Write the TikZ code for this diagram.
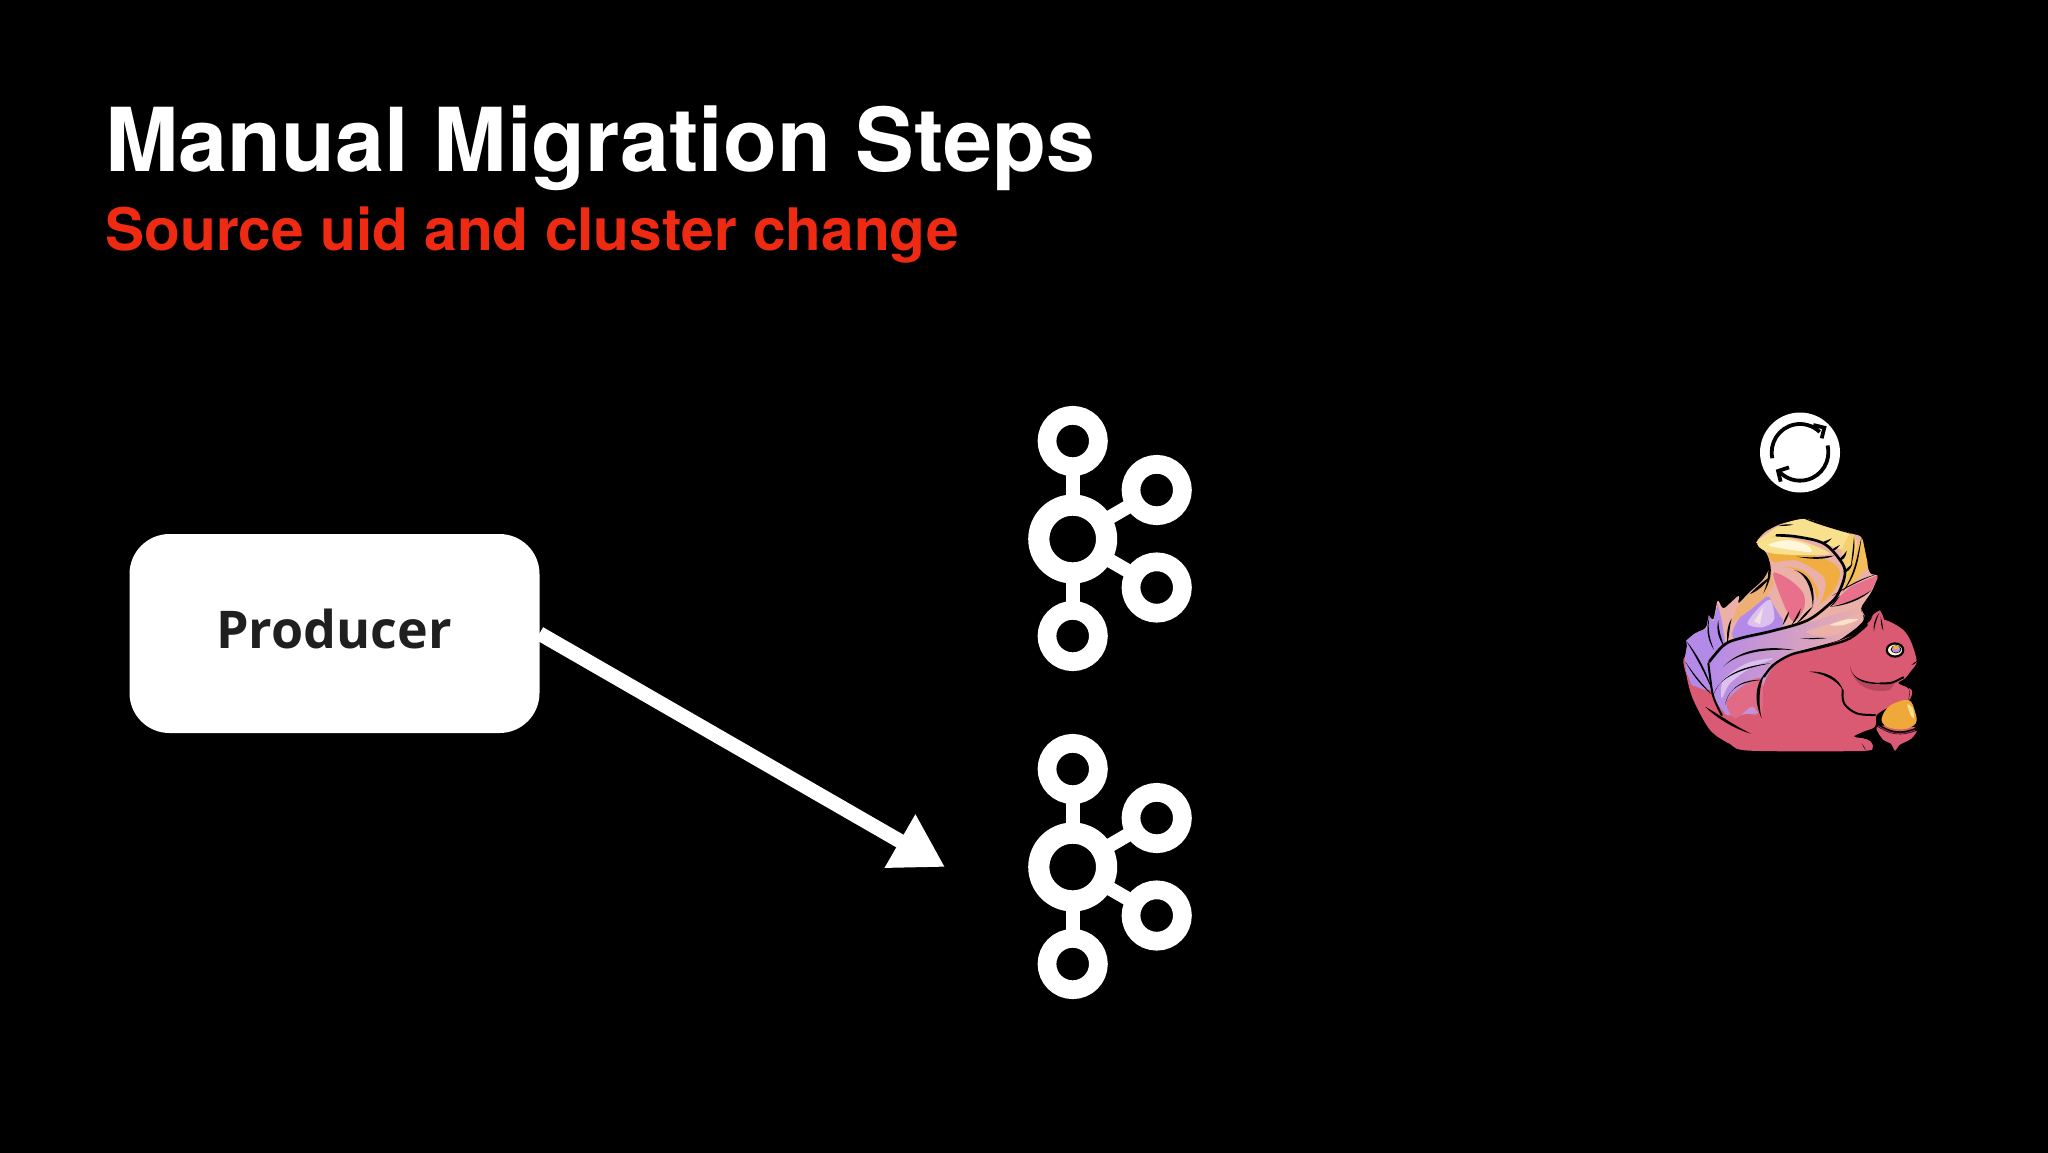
\documentclass[tikz,border=0pt]{standalone}
\usepackage{fontspec}
\setmainfont{TeX Gyre Heros}
\newfontfamily\prodfont{Open Sans}
\usetikzlibrary{arrows.meta,calc}
\definecolor{subred}{HTML}{EE2A12}
\definecolor{sqpink}{HTML}{D95A72}
\definecolor{sqdark}{HTML}{B8465F}
\definecolor{sqpurple}{HTML}{B48AE8}
\definecolor{sqlilac}{HTML}{DCC0EE}
\definecolor{sqrose}{HTML}{E8708A}
\definecolor{sqblush}{HTML}{EBB0A8}
\definecolor{sqorange}{HTML}{F0AE40}
\definecolor{sqyellow}{HTML}{F8E08C}
\definecolor{sqcream}{HTML}{FFF7DC}
\definecolor{sqgold}{HTML}{EFA93A}
\definecolor{sqcup}{HTML}{8A3050}
\def\squ{.1667pt}
\newcommand{\fth}[5]{\fill[black] (#1) .. controls (#2) and (#3) .. (#4) .. controls ($(#3)+(#5)$) and ($(#2)+(#5)$) .. (#1);}
\newcommand{\blob}[2]{\fill[#1] plot[smooth cycle,tension=.5] coordinates {#2};}
\newcommand{\ink}[2]{\draw[black,line width=#1*\squ,line cap=round,line join=round] plot[smooth,tension=.6] coordinates {#2};}
\tikzset{
  ringsmall/.style={circle,draw=white,line width=9.35pt,minimum size=25.7pt,inner sep=0pt,outer sep=0pt},
  ringbig/.style={circle,draw=white,line width=10.6pt,minimum size=33.9pt,inner sep=0pt,outer sep=0pt},
  kafkalink/.style={draw=white,line width=7pt},
  prodbox/.style={fill=white,rounded corners=20pt,minimum width=205pt,minimum height=99.5pt,inner sep=0pt,outer sep=0pt},
  flow/.style={draw=white,line width=7.25pt,-{Triangle[length=26pt,width=29pt]},fill=white},
  titletext/.style={white,anchor=base west,inner sep=0pt,font=\fontsize{44.1pt}{50pt}\selectfont\bfseries},
  subtext/.style={subred,anchor=base west,inner sep=0pt,font=\fontsize{29.3pt}{34pt}\selectfont\bfseries},
  prodtext/.style={black!88,inner sep=0pt,font=\prodfont\fontsize{26pt}{30pt}\selectfont\bfseries},
  kafkaicon/.pic={
    \node[ringbig] (-c) at (0,0) {};
    \node[ringsmall] (-t) at (0,-98) {};
    \node[ringsmall] (-b) at (0,97) {};
    \node[ringsmall] (-u) at (84,-49) {};
    \node[ringsmall] (-l) at (84,48.5) {};
    \path[kafkalink] (-c) -- (-t);
    \path[kafkalink] (-c) -- (-b);
    \path[kafkalink] (-c) -- (-u);
    \path[kafkalink] (-c) -- (-l);
  }
}
\begin{document}
\begin{tikzpicture}[x=.5pt,y=-.5pt]
\useasboundingbox (0,0) rectangle (2048,1152);
\fill[black] (-10,-10) rectangle (2058,1162);

\node[titletext] (title) at (105,171) {Manual Migration Steps};
\node[subtext] (sub) at (105,250) {Source uid and cluster change};

\node[prodbox] (producer) at (334.5,633.5) {};
\node[prodtext] (prodlabel) at (334,629) {Producer};

\pic (ka) at (1072.7,539) {kafkaicon};
\pic (kb) at (1072.7,867) {kafkaicon};

\coordinate (arrowtip) at (945,867);
\draw[flow] (producer.east) -- (arrowtip);

\node[circle,fill=white,minimum size=40pt,inner sep=0pt,outer sep=0pt] (refresh) at (1800,452.5) {};

\begin{scope}[shift={(1650,390)},scale=1/3]
  % refresh icon glyph
  \draw[black,line width=1.9pt] (450,187) ++(168:85) arc (168:314:85);
  \draw[black,line width=1.9pt] (450,187) ++(-14:85) arc (-14:139:85);
  \draw[black,line width=1.9pt] (490,105) -- (523,113) -- (515,145);
  \draw[black,line width=1.9pt] (417,232) -- (384,243) -- (392,275);

  % body
  \blob{sqpink}{(105,800) (110,860) (130,930) (180,1020) (240,1062) (300,1082) (630,1083) (668,1072) (655,1048) (612,1040) (640,1025) (675,1010) (680,975) (720,950) (775,932) (785,900) (745,880) (765,865) (785,840) (800,815) (785,760) (760,720) (705,690) (655,700) (600,740) (400,800) (200,800)}
  \fill[sqpink] (650,712) .. controls (652,690) and (670,668) .. (690,661) .. controls (700,675) and (706,700) .. (708,725) -- cycle;
  % main tail base
  \fill[sqblush,rounded corners=2pt] (108,752) -- (135,730) -- (170,715) -- (176,675) -- (190,695) -- (203,625) -- (218,660) -- (270,612) -- (262,645) -- (300,605) -- (340,570) -- (362,530) -- (352,490) -- (315,458) -- (345,425) -- (390,402) -- (462,385) -- (530,403) -- (600,430) -- (636,438) -- (652,525) -- (660,555) -- (687,553) -- (665,605) -- (630,655) -- (645,690) -- (570,750) -- (420,790) -- (250,830) -- cycle;
  % lower feather
  \shade[left color=sqpurple,right color=sqblush,rounded corners=6pt] (175,820) -- (190,780) -- (240,755) -- (390,720) -- (470,700) -- (630,650) -- (650,690) -- (570,750) -- (420,790) -- (360,835) -- (330,910) -- (335,985) -- (290,960) -- (250,990) -- (210,960) -- (180,900) -- cycle;
  \fill[sqpurple] (112,760) -- (175,800) -- (190,900) -- (165,900) -- (125,885) -- (107,840) -- (105,800) -- cycle;
  \blob{sqlilac}{(220,870) (290,820) (370,805) (300,835) (240,880) (215,925)}
  \blob{sqrose!85!sqdark}{(230,935) (290,880) (335,868) (335,975) (305,950) (255,985)}
  \blob{sqblush}{(470,725) (560,695) (630,672) (600,715) (530,740)}
  \blob{sqcream!70!sqblush}{(540,705) (590,688) (625,688) (580,705)}
  % upper-left plume
  \fill[sqpurple,rounded corners=6pt] (240,762) -- (252,700) -- (300,650) -- (360,605) -- (410,690) -- (390,722) -- cycle;
  \blob{sqlilac}{(292,700) (330,650) (362,630) (372,690) (335,712)}
  \fill[sqcream!60!sqlilac] (312,695) -- (340,650) -- (330,702) -- cycle;
  \fill[sqpurple] (108,752) -- (135,730) -- (170,715) -- (176,675) -- (190,695) -- (203,642) -- (215,690) -- (226,760) -- (190,790) -- (175,812) -- (112,772) -- cycle;
  \fill[sqblush!50!sqorange] (262,650) -- (300,610) -- (340,572) -- (363,530) -- (372,600) -- (300,660) -- (245,700) -- cycle;
  % plume bands
  \blob{sqblush}{(355,610) (392,585) (420,650) (405,695)}
  \blob{sqrose}{(370,550) (420,570) (460,610) (462,655) (430,695) (400,640)}
  \blob{sqorange}{(360,485) (470,490) (550,520) (570,550) (555,595) (510,640) (490,590) (460,550) (370,515)}
  \blob{sqblush}{(370,522) (440,512) (520,560) (522,610) (495,665) (505,600) (460,542)}
  \blob{sqyellow}{(318,458) (390,406) (462,387) (530,405) (598,432) (590,480) (520,460) (440,440) (380,437)}
  \blob{sqyellow}{(322,462) (380,440) (460,455) (540,490) (475,495) (365,490)}
  \blob{sqcream}{(355,465) (410,450) (470,465) (482,486) (400,476)}
  \blob{sqyellow!65!sqorange}{(575,485) (600,432) (622,460) (605,530) (590,570) (585,530)}
  \fill[sqorange!70!sqyellow,rounded corners=2pt] (612,500) -- (636,440) -- (655,530) -- (610,578) -- (578,602) -- cycle;
  \fill[sqrose,rounded corners=2pt] (540,648) -- (600,590) -- (686,554) -- (665,602) -- (610,632) -- cycle;

  % spine
  \ink{8}{(380,436) (440,440) (520,460) (570,510) (585,550) (565,610) (535,645) (470,692) (370,722) (270,745) (222,765) (178,815)}
  \fth{520,455}{530,452}{538,448}{545,445}{-6,12}
  \fth{545,480}{555,472}{562,468}{570,465}{-4,12}
  \fth{565,510}{578,498}{585,490}{590,482}{2,14}
  \fth{580,545}{590,535}{600,528}{608,520}{0,14}
  % top tufts and inner strokes
  \fth{385,408}{400,402}{415,402}{430,404}{-2,6}
  \fth{460,385}{500,392}{560,410}{605,432}{-6,8}
  \fth{432,540}{470,548}{500,580}{488,652}{-14,-2}
  \fth{440,500}{500,505}{530,498}{552,497}{4,7}
  \fth{488,650}{475,670}{462,685}{440,700}{-2,-10}
  \fth{417,665}{415,680}{408,692}{398,705}{-4,-8}
  \fth{452,655}{450,675}{440,690}{425,705}{-4,-8}
  \fth{635,440}{622,490}{618,545}{578,605}{4,10}
  \fth{612,440}{615,470}{612,500}{602,530}{-6,0}
  \fth{545,618}{590,590}{630,565}{682,552}{-3,6}
  \fth{540,650}{590,648}{640,625}{665,600}{-2,-6}
  \fth{540,650}{548,640}{558,628}{570,616}{0,8}
  % notch shadow
  \fth{340,480}{370,520}{370,560}{340,610}{-10,0}
  \fth{300,612}{320,605}{345,585}{360,560}{-6,-10}
  % left feather slivers
  \fth{178,680}{172,720}{180,750}{192,780}{-6,2}
  \fth{205,690}{205,720}{215,745}{222,770}{-8,2}
  \fth{245,685}{230,710}{230,735}{232,760}{8,2}
  \fth{108,752}{135,795}{165,850}{188,905}{6,-4}
  \fth{106,815}{130,860}{160,895}{188,915}{2,-6}
  \ink{6}{(175,820) (180,860) (190,920) (215,975)}
  \fth{165,950}{190,975}{245,1015}{303,1031}{4,-10}
  % feather ink
  \fth{220,830}{260,790}{340,775}{432,780}{6,-10}
  \fth{190,915}{205,860}{280,835}{362,820}{8,-9}
  \fth{225,945}{235,890}{280,875}{335,870}{6,-7}
  \fth{450,745}{490,750}{510,745}{530,745}{0,-4}
  % body back line
  \ink{7}{(650,705) (600,745) (540,765) (470,782) (420,795) (370,825) (342,860)}
  \fth{345,850}{325,890}{325,945}{335,985}{-12,-6}
  \fth{650,700}{655,690}{660,685}{668,675}{2,8}
  % arm, face
  \fill[sqdark] (602,840) .. controls (620,880) and (670,890) .. (735,880) -- (720,900) .. controls (670,910) and (620,895) .. cycle;
  \fth{600,830}{610,880}{660,885}{700,880}{-4,-8}
  \ink{6}{(690,880) (725,878) (760,862)}
  \fth{478,845}{520,842}{570,860}{580,905}{-6,8}
  \ink{6}{(578,900) (582,940) (620,970) (675,975)}
  \fth{760,885}{775,890}{785,900}{775,930}{-2,-8}
  \fth{785,825}{792,825}{798,820}{802,812}{-2,-5}
  \fth{672,725}{668,705}{675,685}{688,668}{5,2}
  \fth{700,722}{698,710}{698,700}{692,680}{-5,0}
  \fth{612,1040}{635,1038}{650,1040}{665,1055}{-3,4}
  \fth{635,1060}{642,1070}{645,1075}{648,1082}{-3,-1}
  % eye
  \fill[black] (735,780) ellipse [x radius=28,y radius=23];
  \fill[sqcream] (735,780) ellipse [x radius=21,y radius=16];
  \fill[black] (738,778) ellipse [x radius=16,y radius=12];
  \fill[sqpurple] (738,778) ellipse [x radius=13,y radius=10];
  \fill[sqorange] (738,773) ellipse [x radius=10,y radius=6];
  % acorn
  \blob{sqpink}{(680,1012) (700,1050) (722,1060) (735,1082) (748,1065) (785,1045) (800,1015) (740,1005)}
  \fill[sqgold] plot[smooth cycle,tension=.6] coordinates {(695,985) (720,947) (775,930) (795,965) (797,1000) (760,1018) (710,1010)};
  \blob{sqyellow}{(772,943) (788,955) (792,985) (782,975)}
  \ink{9}{(682,1005) (720,1024) (760,1028) (798,1018)}
  \draw[sqcup,line width=3*\squ] plot[smooth,tension=.6] coordinates {(684,1008) (720,1026) (760,1030) (796,1020)};
\end{scope}
\end{tikzpicture}
\end{document}
